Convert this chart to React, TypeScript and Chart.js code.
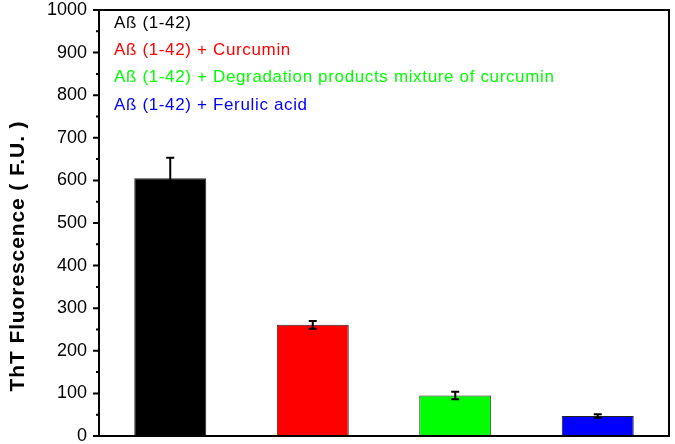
import React, { useEffect, useRef } from "react";
import { Chart, registerables } from "chart.js";

Chart.register(...registerables);

const categories = [
  "Aß (1-42)",
  "Aß (1-42) + Curcumin",
  "Aß (1-42) + Degradation products mixture of curcumin",
  "Aß (1-42) + Ferulic acid",
];
const values = [605, 261, 95, 47];
const errors = [48, 9, 9, 4];
const barColors = ["#000000", "#ff0000", "#00ff00", "#0000ff"];
const yTicks = [0, 100, 200, 300, 400, 500, 600, 700, 800, 900, 1000];
const minorTicks = [50, 150, 250, 350, 450, 550, 650, 750, 850, 950];
const yTitle = "ThT Fluorescence ( F.U. )";

const FONT = "'Liberation Sans', Arial, sans-serif";

const customPlugin = {
  id: "custom",
  afterDatasetsDraw(chart: any) {
    const ctx = chart.ctx;
    const area = chart.chartArea;
    const y = chart.scales.y;
    const meta = chart.getDatasetMeta(0);
    ctx.save();
    // error bars
    ctx.strokeStyle = "#000";
    ctx.lineWidth = 2;
    meta.data.forEach((bar: any, i: number) => {
      const x = bar.x;
      const top = y.getPixelForValue(values[i] + errors[i]);
      const bot = y.getPixelForValue(values[i] - errors[i]);
      ctx.beginPath();
      ctx.moveTo(x, top);
      ctx.lineTo(x, bot);
      ctx.moveTo(x - 4, top);
      ctx.lineTo(x + 4, top);
      ctx.moveTo(x - 4, bot);
      ctx.lineTo(x + 4, bot);
      ctx.stroke();
    });
    // frame
    ctx.lineWidth = 2;
    ctx.strokeRect(area.left, area.top, area.right - area.left, area.bottom - area.top);
    // ticks
    ctx.beginPath();
    yTicks.forEach((v) => {
      const py = y.getPixelForValue(v);
      ctx.moveTo(area.left - 6, py);
      ctx.lineTo(area.left, py);
    });
    minorTicks.forEach((v) => {
      const py = y.getPixelForValue(v);
      ctx.moveTo(area.left - 3, py);
      ctx.lineTo(area.left, py);
    });
    ctx.stroke();
    // legend text
    ctx.font = `17px ${FONT}`;
    (ctx as any).letterSpacing = "0.65px";
    ctx.textBaseline = "middle";
    ctx.textAlign = "left";
    categories.forEach((c, i) => {
      ctx.fillStyle = barColors[i];
      ctx.fillText(c, area.left + 15, area.top + 13 + i * 27.3);
    });
    // y title
    ctx.font = `bold 21px ${FONT}`;
    (ctx as any).letterSpacing = "0.9px";
    ctx.fillStyle = "#000";
    ctx.textAlign = "center";
    ctx.translate(18, 256);
    ctx.rotate(-Math.PI / 2);
    ctx.fillText(yTitle, 0, 0);
    ctx.restore();
  },
};

export default function App() {
  const ref = useRef<HTMLCanvasElement>(null);
  useEffect(() => {
    document.body.style.margin = "0";
    const chart = new Chart(ref.current!, {
      type: "bar",
      data: {
        labels: categories,
        datasets: [
          {
            data: values,
            backgroundColor: barColors,
            borderColor: "#222",
            borderWidth: 1,
            categoryPercentage: 1,
            barPercentage: 0.505,
          },
        ],
      },
      options: {
        animation: false,
        responsive: false,
        maintainAspectRatio: false,
        layout: { padding: { top: 10, right: 6, bottom: 8, left: 0 } },
        plugins: { legend: { display: false }, tooltip: { enabled: false } },
        scales: {
          x: { display: false },
          y: {
            min: 0,
            max: 1000,
            afterFit(scale: any) {
              scale.width = 99;
              scale.paddingTop = 0;
              scale.paddingBottom = 0;
            },
            afterBuildTicks(scale: any) {
              scale.ticks = yTicks.map((v) => ({ value: v }));
            },
            grid: { display: false },
            border: { display: false },
            ticks: {
              color: "#000",
              padding: 4,
              font: { family: FONT, size: 18 },
              callback: (v: any) => String(v),
            },
          },
        },
      },
      plugins: [customPlugin],
    });
    return () => chart.destroy();
  }, []);
  return (
    <div style={{ width: 675, height: 444 }}>
      <canvas ref={ref} width={675} height={444} />
    </div>
  );
}
